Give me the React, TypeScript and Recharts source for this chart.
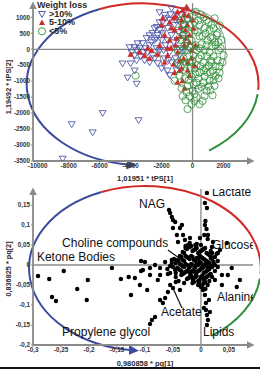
import React from 'react';
import { ScatterChart, Scatter, XAxis, YAxis, ReferenceLine, ReferenceArea, Legend } from 'recharts';

const FONT = '"Liberation Sans", Arial, sans-serif';
const AXIS = '#8a8a8a';
const BLUE = '#3d4b9c';
const TRI_BLUE = '#4d59aa';
const RED = '#d12a26';
const GREEN = '#2f8f3a';

// ---------- Score plot (top) ----------
const legendTitle = 'Weight loss';
const legendLabels = ['>10%', '5-10%', '<5%'];

const lossOver10: [number, number][] = [
  [-8385, -3429], [-7805, -2350], [-6450, -2604], [-5805, -2000], [-3483, -2223], [-4064, 64], [-3741, 64],
  [-3935, -95], [-4515, -445], [-3999, -445], [-3612, -349], [-4193, -889], [-3612, -1080], [-3741, -191],
  [-3225, 190], [-3612, -32], [-3354, -222], [-3096, -349], [-2903, -95], [-2774, -413], [-2451, -286],
  [-2322, 32], [-3741, -667], [-1806, 1080], [-1032, 1080], [-2322, 699], [-2129, 603], [-1935, 857],
  [-1484, 921], [-1613, 667], [-2258, 445], [-2000, 286], [-1742, 127], [-1355, 445], [-1161, 762],
  [-839, 857], [-968, 286], [-645, 603], [-516, 349], [-1484, -95], [-1161, 32], [-839, -191], [-2129, -32],
  [-1806, -286], [-1355, -413], [-968, -508], [-1613, -667], [-2451, 286], [-2774, 127], [-2580, 508],
  [-2967, 349], [-710, 32], [-452, -95],
  [-2774, 438], [-2451, 657], [-2129, 845], [-1742, 970], [-1419, 1096], [-1097, 908], [-774, 1096],
  [-2645, 219], [-2322, 344], [-1935, 501], [-1613, 282], [-1226, 219], [-903, 532], [-581, 751], [-323, 908],
  [-3032, 31], [-2580, -188], [-2258, -438], [-1871, -31], [-1548, -344], [-1097, -282], [-710, -407],
  [-387, 125], [-2000, -595], [-1484, -814], [-1032, -657], [-3419, 31], [-3161, -94], [-3548, 188],
  [-2129, 1158], [-1355, 1283], [-452, 1221],
];

const loss5to10: [number, number][] = [
  [-387, 1334], [-516, 1080], [-2903, 32], [-2774, -286], [-839, -667], [-3999, -159], [-968, 1175],
  [-710, 921], [-1161, 603], [-323, 762], [-194, 445], [-1484, 286], [-1097, 127], [-516, 127], [-65, -32],
  [-839, -349], [-323, -413], [-1806, 445], [-2129, 127], [-1613, -191], [129, -508], [-194, -826],
  [-1161, -730], [-645, -984], [-1355, 667], [-2000, 762], [0, 921], [-3419, -95], [-3096, -191],
  [-968, -95], [-581, -286], [-452, 603], [-1226, 984], [-1613, 32], [-194, 222], [-774, 413],
  [-1484, 845], [-1097, 1033], [-645, 1221], [-258, 1064], [65, 657], [-774, 689], [-452, 344], [-65, -282],
  [-1419, 31], [-1806, -407], [-710, -595], [-323, -657], [-1032, 344], [194, 125], [-1935, 970],
  [-2258, -157], [-2645, -31], [-1226, -470], [-516, -1221], [-968, -1033],
];

const lossUnder5: [number, number][] = [
  [129, 857], [452, 762], [774, 667], [1097, 603], [323, 540], [645, 413], [968, 286], [1290, 349],
  [1484, 127], [1677, -32], [-65, 286], [194, 127], [452, 32], [774, -32], [1097, -95], [1355, -222],
  [1613, -349], [1742, -540], [-323, -32], [65, -191], [387, -286], [710, -413], [1032, -508], [1290, -667],
  [1484, -826], [-581, -286], [-194, -413], [129, -603], [452, -730], [774, -857], [1097, -984], [-452, -667],
  [-65, -857], [258, -1048], [581, -1175], [903, -1302], [-323, -1143], [129, -1397], [774, -1461],
  [-323, -1873], [129, -1619], [-839, -826], [-3677, -826], [-710, 286], [-452, 603], [-194, 762], [903, 921],
  [1226, 762], [516, 1080], [194, 1175], [1871, 286], [2000, -191], [645, -1619], [387, -1238], [0, -1302],
  [1419, -1143], [1161, -349], [903, 127], [581, -191], [258, -508], [0, -349], [-516, 127], [-968, -413],
  [-1161, -984], [-645, -1461], [1742, -730], [1226, 95], [1548, 445], [710, -667], [968, -730],
  [-710, 908], [-323, 970], [0, 1033], [387, 908], [710, 1002], [1032, 845], [1355, 657], [1613, 501],
  [1806, 31], [1935, -407], [-581, 438], [-258, 501], [129, 595], [452, 407], [839, 501], [1161, 376],
  [1419, 219], [1677, 219], [-645, -31], [-387, 219], [-129, 63], [258, -31], [581, 157], [903, -219],
  [1226, -407], [1484, -532], [1677, -908], [-774, -532], [-452, -407], [-129, -595], [194, -783], [516, -532],
  [839, -595], [1161, -720], [1355, -970], [1161, -1283], [-516, -908], [-258, -970], [65, -1096], [387, -908],
  [710, -1033], [1032, -1158], [1290, -1440], [-194, -1471], [258, -1502], [-710, -1221], [-387, -1346],
  [452, -1721], [-65, -1721], [-452, -1596], [-968, -31], [-903, 595], [-516, 783], [1419, 970], [1742, 751],
];

const scoreXTicks = [-10000, -8000, -6000, -4000, -2000, 0, 2000];
const scoreYTicks = [-3500, -3000, -2500, -2000, -1500, -1000, -500, 0, 500, 1000];

// ---------- Loading plot (bottom) ----------
const loadings: [number, number][] = [
  [-0.291, -0.0275], [-0.271, -0.035], [-0.245, -0.015], [-0.266, -0.08], [-0.259, -0.09], [-0.221, -0.06],
  [-0.204, -0.0875], [-0.202, -0.0375], [-0.159, -0.0075], [-0.143, -0.035], [-0.125, -0.075], [-0.129, -0.03],
  [-0.107, 0.01], [-0.107, -0.015],
  [-0.0875, -0.1375], [-0.082, -0.13], [-0.091, -0.1475], [-0.068, -0.095], [-0.064, -0.0825], [-0.059, -0.0675],
  [-0.05, -0.0575], [-0.055, -0.05], [-0.073, -0.0875], [-0.096, -0.0625], [-0.109, -0.05], [-0.118, -0.0325],
  [-0.077, -0.0375], [-0.045, -0.0425], [-0.0375, -0.0625],
  [-0.1036, -0.0125], [-0.091, -0.0075], [-0.082, 0], [-0.073, -0.0075], [-0.064, 0.0075], [-0.055, -0.0025],
  [-0.046, -0.0125], [-0.073, -0.025], [-0.091, -0.025], [-0.1, 0.0075], [-0.059, -0.0225], [-0.052, 0.0125],
  [-0.057, 0.1375], [-0.055, 0.13], [-0.052, 0.12], [-0.046, 0.1075], [-0.05, 0.0925], [-0.0375, 0.0925],
  [-0.032, 0.075], [-0.043, 0.075], [-0.05, 0.1125], [-0.034, 0.1], [-0.0286, 0.0625], [-0.0232, 0.05],
  [-0.041, 0.0575], [-0.0196, 0.0675],
  [0.0107, 0.18], [0.0071, 0.155], [0.0107, 0.1425],
  [0.0196, 0.045], [0.0304, 0.03], [0.0464, 0.055], [0.0214, 0.0575], [0.034, 0.0375], [0.0125, 0.075],
  [0.0071, 0.1], [-0.0018, 0.0675], [0.008, 0.11], [0.01, 0.09], [0.006, 0.075], [0.012, 0.065],
  [0.048, -0.025], [0.0696, -0.0375], [0.064, -0.055], [0.0375, -0.05], [0.0375, -0.025], [0.055, -0.0075],
  [0.025, -0.0375],
  [0.0071, -0.075], [0.0089, -0.095], [0.0089, -0.1125], [0.0107, -0.125], [0.0125, -0.1375], [0.0036, -0.0625],
  [0.0143, -0.0875], [0.0054, -0.1075], [0.016, -0.1175], [0.0107, -0.15],
  [-0.035, 0.02], [-0.03, 0.03], [-0.025, 0.04], [-0.02, 0.045], [-0.015, 0.035], [-0.01, 0.04], [-0.005, 0.03],
  [0, 0.035], [0.005, 0.04], [0.01, 0.03], [0.015, 0.025], [-0.04, 0.01], [-0.035, 0], [-0.03, 0.01],
  [-0.025, 0.02], [-0.02, 0.015], [-0.015, 0.02], [-0.01, 0.01], [-0.005, 0.015], [0, 0.02], [0.005, 0.015],
  [0.01, 0.01], [0.015, 0.005], [0.02, 0.015], [-0.04, -0.01], [-0.035, -0.015], [-0.03, -0.005], [-0.025, 0],
  [-0.02, -0.005], [-0.015, 0], [-0.01, -0.005], [-0.005, 0], [0, 0.005], [0.005, -0.005], [0.01, 0],
  [0.015, -0.01], [0.02, -0.005], [0.025, 0], [-0.035, -0.025], [-0.03, -0.02], [-0.025, -0.015], [-0.02, -0.02],
  [-0.015, -0.015], [-0.01, -0.02], [-0.005, -0.015], [0, -0.01], [0.005, -0.02], [0.01, -0.015], [0.015, -0.025],
  [-0.025, -0.035], [-0.02, -0.03], [-0.015, -0.035], [-0.01, -0.03], [-0.005, -0.04], [0, -0.03], [0.005, -0.035],
  [0.01, -0.03], [-0.015, -0.045], [-0.005, -0.05], [0.005, -0.045], [0, -0.055], [0.008, -0.06], [-0.045, 0.005],
  [-0.05, -0.005], [-0.045, -0.02], [0.02, 0.03], [0.025, 0.02], [0.03, 0.01], [-0.01, 0.05], [0, 0.05],
  [-0.02, 0.055],
  [-0.0375, 0.0225], [-0.0325, 0.0325], [-0.0275, 0.0425], [-0.0175, 0.0475], [-0.0125, 0.0375], [-0.0075, 0.0425],
  [-0.0025, 0.0325], [0.0025, 0.0375], [0.0075, 0.0425], [0.0125, 0.0275], [0.0175, 0.0225], [-0.0425, 0.0125],
  [-0.0375, 0.0025], [-0.0325, 0.0125], [-0.0275, 0.0225], [-0.0225, 0.0175], [-0.0175, 0.0225], [-0.0125, 0.0125],
  [-0.0075, 0.0175], [-0.0025, 0.0225], [0.0025, 0.0175], [0.0075, 0.0125], [0.0125, 0.0075], [0.0175, 0.0175],
  [0.0225, 0.0075], [-0.0425, -0.0075], [-0.0375, -0.0125], [-0.0325, -0.0025], [-0.0275, 0.0025], [-0.0225, -0.0025],
  [-0.0175, 0.0025], [-0.0125, -0.0025], [-0.0075, 0.0025], [-0.0025, 0.0075], [0.0025, -0.0025], [0.0075, 0.0025],
  [0.0125, -0.0075], [0.0175, -0.0025], [0.0225, 0.0025], [-0.0325, -0.0225], [-0.0275, -0.0175], [-0.0225, -0.0125],
  [-0.0175, -0.0175], [-0.0125, -0.0125], [-0.0075, -0.0175], [-0.0025, -0.0125], [0.0025, -0.0075], [0.0075, -0.0175],
  [0.0125, -0.0125], [0.0175, -0.0225], [-0.0225, -0.0325], [-0.0175, -0.0275], [-0.0125, -0.0325], [-0.0075, -0.0275],
  [-0.0025, -0.0375], [0.0025, -0.0275], [0.0075, -0.0325], [0.0125, -0.0275], [-0.0125, -0.0425], [-0.0025, -0.0475],
  [0.0075, -0.0425], [0.0025, -0.0525], [-0.0275, 0.0475], [-0.0075, 0.0525], [0.0175, 0.035], [0.028, 0.028],
  [-0.048, 0.015], [-0.052, 0.005], [-0.06, -0.01], [-0.055, -0.02], [-0.045, -0.03], [-0.04, -0.04], [-0.03, -0.045],
  [0.02, -0.03], [0.025, -0.015], [0.03, -0.005], [0.015, -0.04], [0.012, -0.05],
];

const metaboliteNames = ['NAG', 'Lactate', 'Choline compounds', 'Glucose', 'Ketone Bodies', 'Alanine', 'Acetate', 'Lipids', 'Propylene glycol'];
const metaboliteLabelAt: [number, number][] = [
  [-0.1107, 0.1525], [0.0196, 0.1825], [-0.248, 0.055], [0.0196, 0.05], [-0.293, 0.02],
  [0.0286, -0.08], [-0.0714, -0.1175], [0.0036, -0.1675], [-0.248, -0.1675],
];
const pointerLines: [number, number, number, number][] = [
  [-0.059, 0.0375, -0.034, 0.0125],
  [-0.05, -0.0575, -0.034, -0.1075],
];

const loadXTicks = [-0.3, -0.25, -0.2, -0.15, -0.1, -0.05, 0, 0.05];
const loadYTicks = [-0.2, -0.15, -0.1, -0.05, 0, 0.05, 0.1, 0.15];

// annotation ellipses (data units)
const scoreEllipse = { cx: -3225, cy: -1096, rx: 7480, ry: 2535 };
const scoreT2 = { cx: 0, cy: 0, rx: 2130, ry: 1240 };
const loadEllipse = { cx: -0.1, cy: -0.0085, rx: 0.207, ry: 0.206 };

const arcs = [
  { from: 112, to: -4, color: RED },
  { from: -7, to: -55, color: GREEN },
  { from: 112, to: 264, color: BLUE, arrow: true },
];

const toPts = (a: [number, number][]) => a.map(([x, y]) => ({ x, y }));
const fmt = (v: number) => String(v).replace('.', ',');

const arcPath = (cx: number, cy: number, rx: number, ry: number, a1: number, a2: number) => {
  const r = Math.PI / 180;
  const p = (a: number) => [cx + rx * Math.cos(a * r), cy - ry * Math.sin(a * r)];
  const [x1, y1] = p(a1);
  const [x2, y2] = p(a2);
  const large = Math.abs(a2 - a1) > 180 ? 1 : 0;
  const sweep = a2 < a1 ? 1 : 0;
  return `M${x1},${y1} A${rx},${ry} 0 ${large} ${sweep} ${x2},${y2}`;
};

const ColoredEllipse = (props: any) => {
  const { x, y, width, height } = props;
  const cx = x + width / 2;
  const cy = y + height / 2;
  const rx = Math.abs(width) / 2;
  const ry = Math.abs(height) / 2;
  return (
    <g>
      {arcs.map((a, i) => (
        <path key={i} d={arcPath(cx, cy, rx, ry, a.from, a.to)} fill="none" stroke={a.color} strokeWidth={2}
          markerEnd={a.arrow ? 'url(#blueArrowHead)' : undefined} />
      ))}
    </g>
  );
};

const GrayEllipse = (props: any) => {
  const { x, y, width, height } = props;
  return <ellipse cx={x + width / 2} cy={y + height / 2} rx={Math.abs(width) / 2} ry={Math.abs(height) / 2}
    fill="none" stroke="#7a7a7a" strokeWidth={0.8} />;
};

const DownTri = (p: any) => (
  <path d={`M${p.cx - 3.5},${p.cy - 2.5} L${p.cx + 3.5},${p.cy - 2.5} L${p.cx},${p.cy + 3.3} Z`} fill="none" stroke={TRI_BLUE} strokeWidth={0.9} />
);
const UpTri = (p: any) => (
  <path d={`M${p.cx - 2.8},${p.cy + 2.3} L${p.cx + 2.8},${p.cy + 2.3} L${p.cx},${p.cy - 2.8} Z`} fill={RED} stroke={RED} strokeWidth={0.4} />
);
const OpenCircle = (p: any) => <circle cx={p.cx} cy={p.cy} r={3.6} fill="none" stroke={GREEN} strokeWidth={0.8} />;
const Dot = (p: any) => <circle cx={p.cx} cy={p.cy} r={2.2} fill="#000" />;
const NameLabel = (p: any) => (
  <text x={p.cx} y={p.cy} dominantBaseline="central" fontFamily={FONT} fontSize={12} fill="#111">
    {p.payload?.name ?? p.name}
  </text>
);

const legendSymbols = [
  <path d="M1.5,1.5 L8.5,1.5 L5,7.5 Z" fill="none" stroke={TRI_BLUE} strokeWidth={1} />,
  <path d="M2,7 L8,7 L5,1.5 Z" fill={RED} />,
  <circle cx={5} cy={4.3} r={3.6} fill="none" stroke={GREEN} strokeWidth={0.9} />,
];

const ScoreLegend = () => (
  <div style={{ fontFamily: FONT, fontSize: 9, fontWeight: 700, color: '#2a2a2a', lineHeight: '8.7px' }}>
    <div>{legendTitle}</div>
    {legendLabels.map((l, i) => (
      <div key={l} style={{ display: 'flex', alignItems: 'center', height: 8.7 }}>
        <svg width={10} height={9} style={{ overflow: 'visible' }}>{legendSymbols[i]}</svg>
        <span style={{ marginLeft: 2 }}>{l}</span>
      </div>
    ))}
  </div>
);

const YTitle = ({ viewBox, text, dy }: any) => {
  const x = viewBox.x + 5;
  const cy = viewBox.y + viewBox.height / 2 + dy;
  return (
    <text x={x} y={cy} transform={`rotate(-90, ${x}, ${cy})`} textAnchor="middle" dominantBaseline="central"
      fontFamily={FONT} fontSize={7.3} fontWeight={700} fill="#2a2a2a">{text}</text>
  );
};
const XTitle = ({ viewBox, text, dy }: any) => (
  <text x={viewBox.x + viewBox.width / 2 + 2} y={viewBox.y + dy} textAnchor="middle" dominantBaseline="central"
    fontFamily={FONT} fontSize={7.5} fontWeight={700} fill="#2a2a2a">{text}</text>
);

const tickStyle = { fontFamily: FONT, fontSize: 6.3, fontWeight: 700, fill: '#333' };

export default function App() {
  const lineAxis = { stroke: AXIS, strokeWidth: 1.8 };
  return (
    <div style={{ position: 'absolute', left: 0, top: 0, width: 260, height: 369, background: '#fff', overflow: 'hidden' }}>
      <svg width={0} height={0} style={{ position: 'absolute' }}>
        <defs>
          <marker id="axisArrow" viewBox="0 0 10 10" refX={8} refY={5} markerWidth={8} markerHeight={8}
            markerUnits="userSpaceOnUse" orient="auto-start-reverse">
            <path d="M0,0 L10,5 L0,10 z" fill={AXIS} />
          </marker>
          <marker id="blueArrowHead" viewBox="0 0 10 10" refX={4} refY={5} markerWidth={10} markerHeight={10}
            markerUnits="userSpaceOnUse" orient="auto">
            <path d="M0,0 L10,5 L0,10 z" fill={BLUE} />
          </marker>
        </defs>
      </svg>

      <ScatterChart width={260} height={183} margin={{ top: 3, right: 7, left: 3, bottom: 0 }}>
        <XAxis type="number" dataKey="x" domain={[-10300, 3900]} ticks={scoreXTicks} allowDataOverflow
          height={22} tick={tickStyle} tickSize={2} tickMargin={1} tickLine={{ stroke: AXIS }}
          axisLine={{ ...lineAxis, markerEnd: 'url(#axisArrow)' } as any}
          label={<XTitle text="1,01951 * tPS[1]" dy={17} />} />
        <YAxis type="number" dataKey="y" domain={[-3500, 1450]} ticks={scoreYTicks} allowDataOverflow
          width={30} tick={tickStyle} tickSize={2} tickMargin={1} tickLine={{ stroke: AXIS }}
          axisLine={{ ...lineAxis, markerStart: 'url(#axisArrow)' } as any}
          label={<YTitle text="1,19492 * tPS[2]" dy={5} />} />
        <ReferenceLine x={0} stroke={AXIS} strokeWidth={1.3} />
        <ReferenceLine y={0} stroke={AXIS} strokeWidth={1.3} />
        <ReferenceArea x1={scoreT2.cx - scoreT2.rx} x2={scoreT2.cx + scoreT2.rx} y1={scoreT2.cy - scoreT2.ry}
          y2={scoreT2.cy + scoreT2.ry} ifOverflow="visible" shape={GrayEllipse} />
        <ReferenceArea x1={scoreEllipse.cx - scoreEllipse.rx} x2={scoreEllipse.cx + scoreEllipse.rx}
          y1={scoreEllipse.cy - scoreEllipse.ry} y2={scoreEllipse.cy + scoreEllipse.ry} ifOverflow="visible"
          shape={ColoredEllipse} />
        <Scatter name={legendLabels[0]} data={toPts(lossOver10)} shape={DownTri} isAnimationActive={false} />
        <Scatter name={legendLabels[1]} data={toPts(loss5to10)} shape={UpTri} isAnimationActive={false} />
        <Scatter name={legendLabels[2]} data={toPts(lossUnder5)} shape={OpenCircle} isAnimationActive={false} />
        <Legend layout="vertical" align="center" verticalAlign="middle" content={ScoreLegend}
          wrapperStyle={{ left: 37, top: 1, width: 80 }} />
      </ScatterChart>

      <ScatterChart width={260} height={186} margin={{ top: 6, right: 7, left: 3, bottom: 2 }}>
        <XAxis type="number" dataKey="x" domain={[-0.3, 0.093]} ticks={loadXTicks} allowDataOverflow
          height={22} tick={tickStyle} tickSize={2} tickMargin={1} tickLine={{ stroke: AXIS }} tickFormatter={fmt}
          axisLine={{ ...lineAxis, markerEnd: 'url(#axisArrow)' } as any}
          label={<XTitle text="0,980858 * pq[1]" dy={18} />} />
        <YAxis type="number" dataKey="y" domain={[-0.2, 0.19]} ticks={loadYTicks} allowDataOverflow
          width={30} tick={tickStyle} tickSize={2} tickMargin={1} tickLine={{ stroke: AXIS }} tickFormatter={fmt}
          axisLine={{ ...lineAxis, markerStart: 'url(#axisArrow)' } as any}
          label={<YTitle text="0,836825 * pq[2]" dy={2} />} />
        <ReferenceLine x={0} stroke={AXIS} strokeWidth={1.3} />
        <ReferenceLine y={0} stroke={AXIS} strokeWidth={1.3} />
        <ReferenceArea x1={loadEllipse.cx - loadEllipse.rx} x2={loadEllipse.cx + loadEllipse.rx}
          y1={loadEllipse.cy - loadEllipse.ry} y2={loadEllipse.cy + loadEllipse.ry} ifOverflow="visible"
          shape={ColoredEllipse} />
        {pointerLines.map(([x1, y1, x2, y2], i) => (
          <ReferenceLine key={i} segment={[{ x: x1, y: y1 }, { x: x2, y: y2 }]} stroke="#111" strokeWidth={1.2} ifOverflow="visible" />
        ))}
        <Scatter data={toPts(loadings)} shape={Dot} isAnimationActive={false} />
        <Scatter data={metaboliteNames.map((name, i) => ({ x: metaboliteLabelAt[i][0], y: metaboliteLabelAt[i][1], name }))}
          shape={NameLabel} isAnimationActive={false} />
      </ScatterChart>
      <div style={{ position: 'absolute', left: 0, right: 0, bottom: 0, height: 2, background: '#111' }} />
    </div>
  );
}
